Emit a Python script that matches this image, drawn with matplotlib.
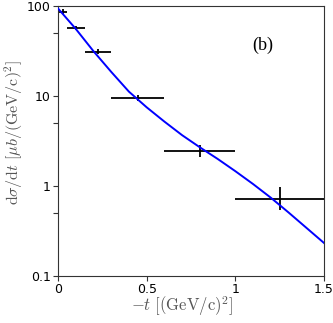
import matplotlib.pyplot as plt
import numpy as np

plt.rcParams['mathtext.fontset'] = 'cm'

# points experimentaux
t_pts = [0.028, 0.1, 0.225, 0.45, 0.8, 1.25]
t_err = [0.025, 0.05, 0.075, 0.15, 0.2, 0.25]
ds_pts = [86, 57, 31, 9.6, 2.45, 0.72]
ds_lo = [5, 3, 2, 0.7, 0.35, 0.18]
ds_hi = [6, 3, 2, 0.8, 0.4, 0.25]

# courbe theorique
t_th = [0.0, 0.1, 0.2, 0.3, 0.4, 0.5, 0.6, 0.7, 0.8,
        0.9, 1.0, 1.1, 1.2, 1.3, 1.4, 1.5]
ds_th = [94.4, 56, 31.6, 18.6, 11.2, 7.5, 5.2, 3.67, 2.69,
         2.0, 1.46, 1.05, 0.74, 0.507, 0.343, 0.232]

fig = plt.figure(figsize=(3.33, 3.23), dpi=100)
ax = fig.add_axes([0.174, 0.146, 0.799, 0.835])

ax.plot(t_th, ds_th, color='#0000ff', lw=1.4, zorder=3)
ax.errorbar(t_pts, ds_pts, xerr=t_err, yerr=[ds_lo, ds_hi], fmt='none',
            ecolor='black', elinewidth=1.3, capsize=0, zorder=2)

ax.set_yscale('log')
ax.set_xlim(0, 1.5)
ax.set_ylim(0.1, 100)
ax.set_xticks([0, 0.5, 1, 1.5])
ax.set_xticklabels(['0', '0.5', '1', '1.5'])
ax.set_yticks([0.1, 1, 10, 100])
ax.set_yticklabels(['0.1', '1', '10', '100'])
ax.set_yticks([0.5, 5, 50], minor=True)
ax.yaxis.set_minor_formatter(plt.NullFormatter())
ax.tick_params(axis='both', which='both', direction='out', length=3.5,
               width=0.8, labelsize=9, color='#333333', pad=1.5)

for s in ax.spines.values():
    s.set_linewidth(0.8)
    s.set_color('#333333')

ax.set_xlabel(r'$-t\ [(\mathrm{GeV/c})^2]$', fontsize=12, color='#555555')
ax.set_ylabel(r'$\mathrm{d}\sigma/\mathrm{d}t\ [\mu b/(\mathrm{GeV/c})^2]$',
              fontsize=11.5, color='#555555')
ax.xaxis.set_label_coords(0.466, -0.07)
ax.yaxis.set_label_coords(-0.125, 0.533)

ax.text(0.77, 0.855, '(b)', transform=ax.transAxes, fontsize=13,
        family='Liberation Serif', ha='center', va='center')

fig.savefig('out.png', dpi=100)
